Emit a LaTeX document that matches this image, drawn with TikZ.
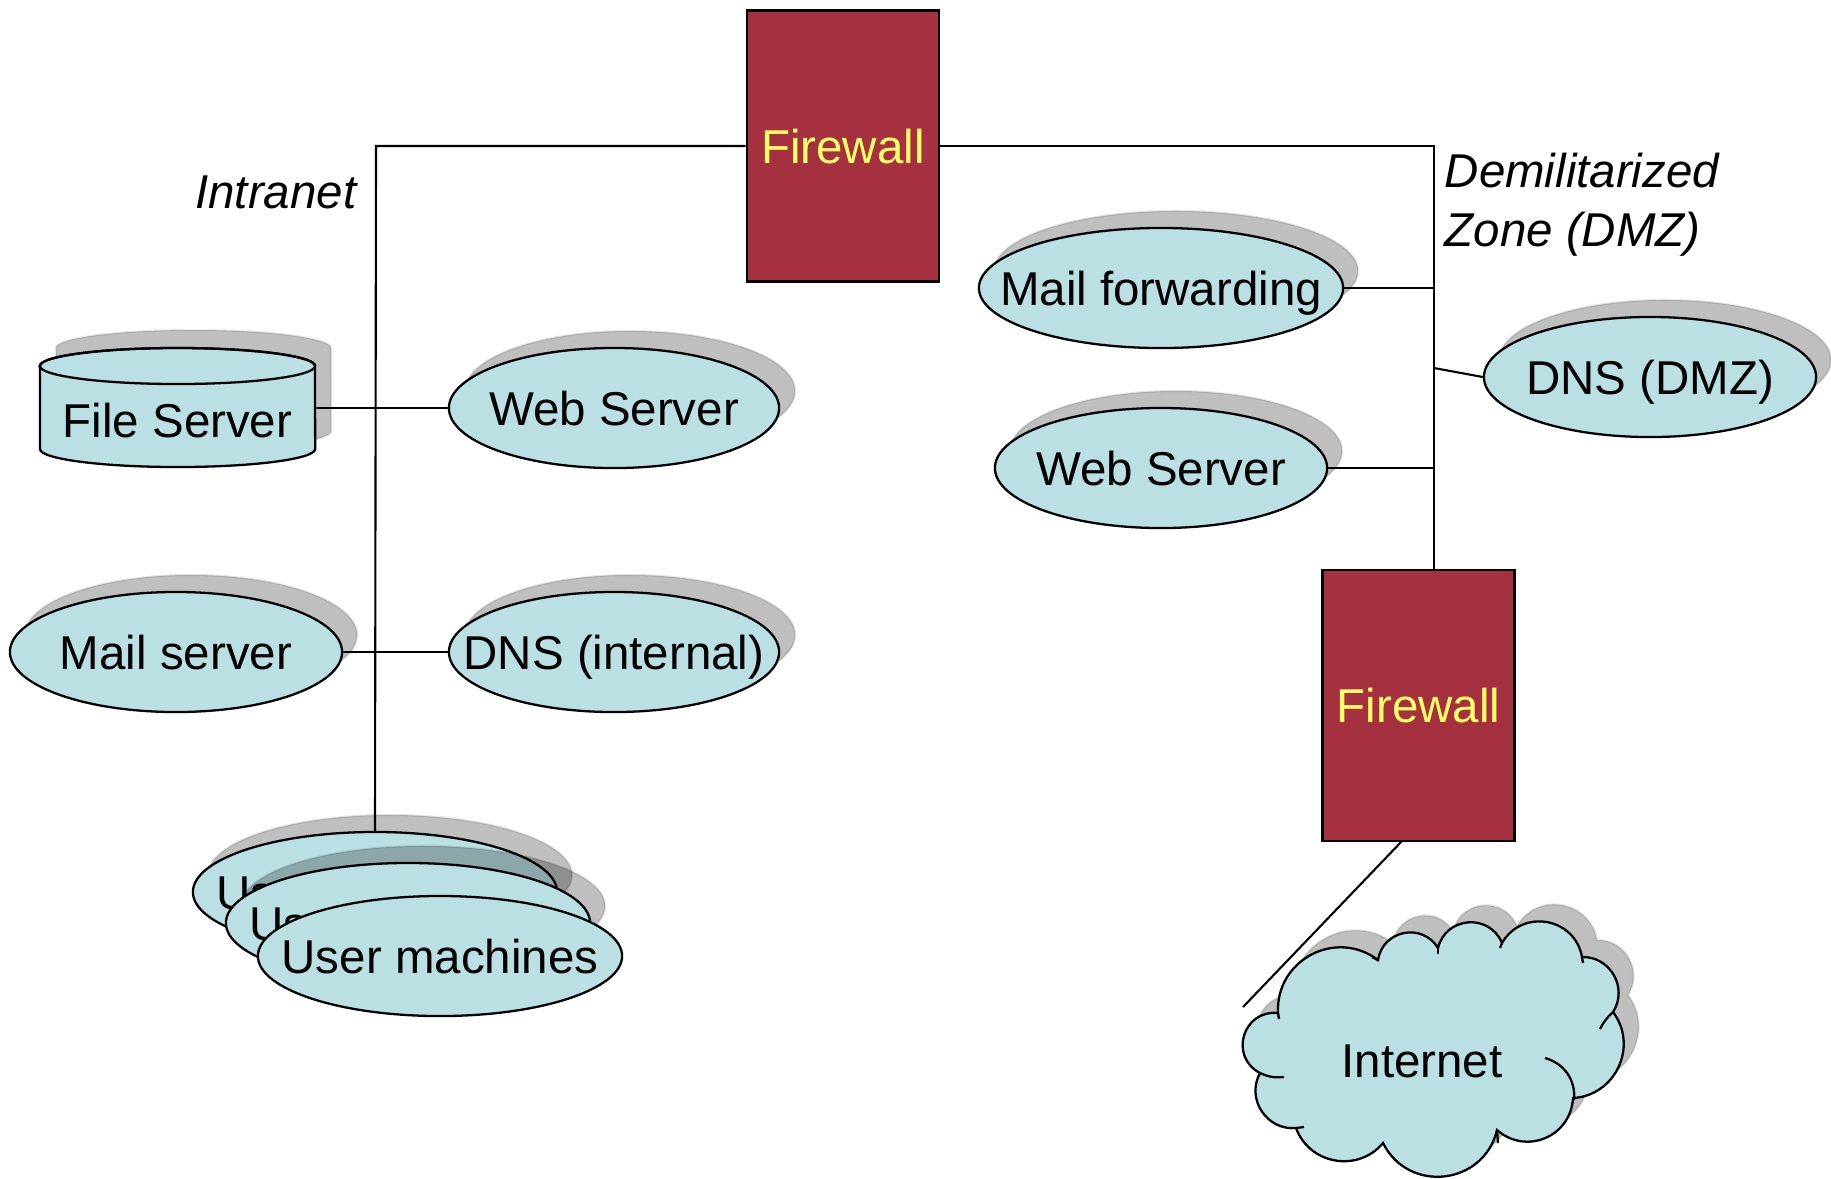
\documentclass[tikz,border=0pt]{standalone}
\usepackage{fontspec}
\setmainfont{Liberation Sans}
\usetikzlibrary{shapes.geometric,calc}
\definecolor{fwred}{RGB}{165,49,64}
\definecolor{fwtext}{RGB}{255,255,102}
\definecolor{nodeblue}{RGB}{186,224,228}
\newcommand\lbl{\fontsize{13.5}{16.8}\selectfont}
\newcommand\cloudoutline{(1278,-1013) to[bend left=65,looseness=1.2] (1378,-960) to[bend left=70,looseness=1.27] (1438,-948) to[bend left=72,looseness=1.3] (1502,-943) to[bend left=70,looseness=1.27] (1582,-957) to[bend left=62,looseness=1.15] (1613,-1012) to[bend left=62,looseness=1.15] (1573,-1098) to[bend left=64,looseness=1.2] (1497,-1130) to[bend left=70,looseness=1.27] (1383,-1143) to[bend left=60,looseness=1.13] (1296,-1128) to[bend left=62,looseness=1.15] (1260,-1073) to[bend left=79,looseness=1.45] (1278,-1013) -- cycle}
\tikzset{
  lnk/.style={line width=0.6pt},
  fwbox/.style={draw, line width=0.7pt, fill=fwred, text=fwtext, minimum width=1.92cm, minimum height=2.71cm, inner sep=0pt, font=\lbl, text height=9.7pt, text depth=0pt},
  ellnode/.style={ellipse, draw, line width=0.65pt, fill=nodeblue, inner sep=0pt, minimum height=1.2cm, font=\lbl, text height=9.7pt, text depth=0pt},
  shadowfill/.style={fill=black, fill opacity=0.25, draw=black, draw opacity=0.1, line width=0.6pt},
  txt/.style={font=\lbl, inner sep=0pt, text height=9.7pt, text depth=0pt},
  itxt/.style={font=\lbl\itshape, inner sep=0pt},
  tick/.style={line width=0.65pt},
}
\begin{document}
\begin{tikzpicture}[x=0.01cm, y=0.01cm]
\useasboundingbox (0,0) rectangle (1831,-1178);

% ---------- shadows ----------
\path[shadowfill] (630,-391) ellipse [x radius=1.65cm, y radius=0.6cm];
\path[shadowfill] (630,-635) ellipse [x radius=1.65cm, y radius=0.6cm];
\path[shadowfill] (191,-635) ellipse [x radius=1.66cm, y radius=0.6cm];
\path[shadowfill] (1176,-271) ellipse [x radius=1.82cm, y radius=0.6cm];
\path[shadowfill] (1665,-360) ellipse [x radius=1.66cm, y radius=0.6cm];
\path[shadowfill] (1176,-451) ellipse [x radius=1.66cm, y radius=0.6cm];
\path[shadowfill] (56,-348) -- (56,-431) arc[start angle=180, end angle=360, x radius=1.375cm, y radius=0.18cm] -- (331,-348) arc[start angle=0, end angle=180, x radius=1.375cm, y radius=0.18cm] -- cycle;
\path[shadowfill, shift={(15,17)}] \cloudoutline;

% ---------- firewalls ----------
\node[fwbox] (fw1) at (843,-146) {Firewall};
\node[fwbox] (fw2) at (1418.5,-705.5) {Firewall};

% ---------- junction coordinates ----------
\coordinate (tl) at (376,-146);
\coordinate (tr) at (1434,-146);
\coordinate (dj) at (1434,-368);
\coordinate (fwb) at (1402,-841);
\coordinate (ie) at (1243,-1007);

% ---------- main links (drawn under nodes) ----------
\path[shadowfill] (390,-875) ellipse [x radius=1.82cm, y radius=0.6cm];
\node[ellnode, minimum width=3.64cm] (um1) at (375,-892) {\makebox[0pt]{User machines}};
\draw[lnk] (fw1.west) -- (tl) -- (um1.north);
\draw[lnk] (fw1.east) -- (tr) -- (tr |- fw2.north);

% ---------- file server cylinder ----------
\filldraw[fill=nodeblue, line width=0.65pt] (40,-366) -- (40,-449) arc[start angle=180, end angle=360, x radius=1.375cm, y radius=0.18cm] -- (315,-366) arc[start angle=0, end angle=180, x radius=1.375cm, y radius=0.18cm] -- cycle;
\draw[line width=0.65pt] (177.5,-366) ellipse [x radius=1.375cm, y radius=0.18cm];
\node[txt, minimum width=2.75cm] (fs) at (177.5,-420) {File Server};

% ---------- intranet ellipses ----------
\node[ellnode, minimum width=3.30cm] (ws1) at (614,-408) {\makebox[0pt]{Web Server}};
\node[ellnode, minimum width=3.30cm] (dns1) at (614,-652) {\makebox[0pt]{DNS (internal)}};
\node[ellnode, minimum width=3.32cm] (ms) at (176,-652) {\makebox[0pt]{Mail server}};

% ---------- user machines stack ----------
\path[shadowfill] (423,-906) ellipse [x radius=1.82cm, y radius=0.6cm];
\node[ellnode, minimum width=3.64cm] (um2) at (408,-923) {\makebox[0pt]{User machines}};
\node[ellnode, minimum width=3.64cm] (um3) at (440,-956) {\makebox[0pt]{User machines}};

% ---------- DMZ ellipses ----------
\node[ellnode, minimum width=3.64cm] (mf) at (1161,-288) {\makebox[0pt]{Mail forwarding}};
\node[ellnode, minimum width=3.32cm] (dns2) at (1650,-377) {\makebox[0pt]{DNS (DMZ)}};
\node[ellnode, minimum width=3.32cm] (ws2) at (1161,-468) {\makebox[0pt]{Web Server}};

% ---------- internet cloud ----------
\filldraw[fill=nodeblue, line width=0.65pt] \cloudoutline;
\draw[tick] (1545,-1058) to[bend left=40] (1574,-1100);
\draw[tick] (1613,-1012) to[bend right=10] (1600,-1029);
\draw[tick] (1260,-1073) to[bend right=15] (1284,-1077);
\draw[tick] (1296,-1128) -- (1304,-1127);
\draw[tick] (1497,-1130) -- (1498,-1143);
\draw[tick] (1438,-948) -- (1438,-954);
\draw[tick] (1502,-943) -- (1500,-948);
\draw[tick] (1582,-957) -- (1583,-963);
\draw[tick] (1378,-960) -- (1372,-957);
\draw[tick] (1278,-1013) -- (1279,-1019);
\node[txt] (inet) at (1422,-1060) {Internet};

% ---------- branch links ----------
\draw[lnk] (fs.east |- ws1.west) -- (ws1.west);
\draw[lnk] (ms.east) -- (dns1.west);
\draw[lnk] (mf.east) -- (mf.east -| tr);
\draw[lnk] (dj) -- (dns2.west);
\draw[lnk] (ws2.east) -- (ws2.east -| tr);
\draw[lnk] (fwb) -- (ie);

% ---------- zone labels ----------
\node[itxt, anchor=base east] (intra) at (357,-208) {Intranet};
\node[itxt, anchor=base west] (dmz1) at (1444,-187) {Demilitarized};
\node[itxt, anchor=base west] (dmz2) at (1444,-246) {Zone (DMZ)};
\end{tikzpicture}
\end{document}
